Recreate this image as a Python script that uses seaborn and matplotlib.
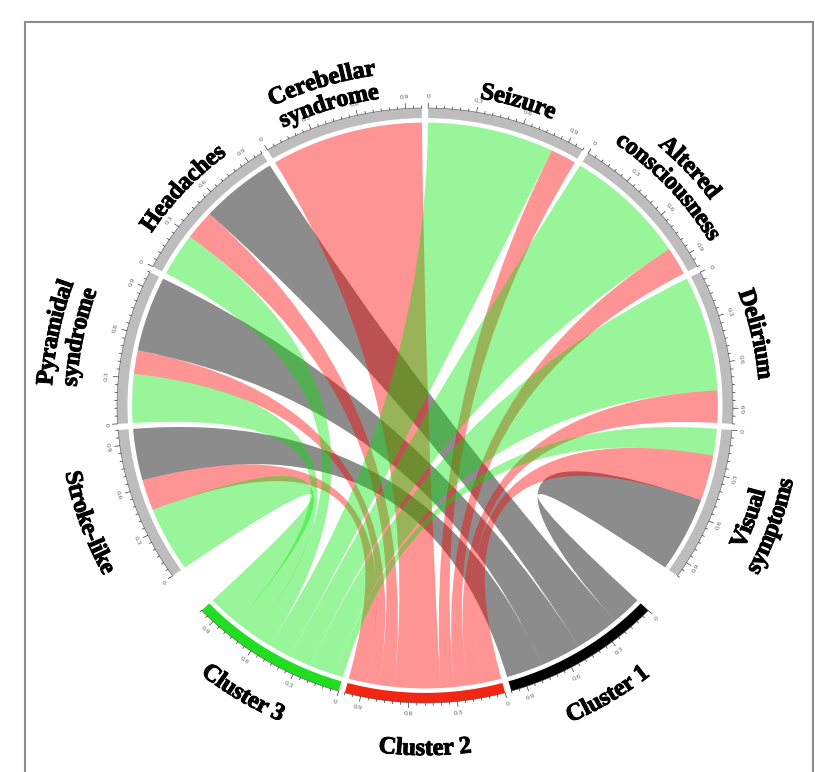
import numpy as np
import pandas as pd
import seaborn as sns
import matplotlib
matplotlib.use("Agg")
import matplotlib.pyplot as plt
import matplotlib.patheffects as pe
from matplotlib.path import Path
from matplotlib.patches import PathPatch, Polygon
from matplotlib.textpath import TextPath
from matplotlib.font_manager import FontProperties

# ---------------------------------------------------------------- data
symptoms = ["Seizure", "Altered\nconsciousness", "Delirium", "Visual\nsymptoms",
            "Stroke-like", "Pyramidal\nsyndrome", "Headaches", "Cerebellar\nsyndrome"]
clusters = ["Cluster 1", "Cluster 2", "Cluster 3"]

# share of each symptom carried by each cluster (each symptom sums to 1)
symptom_share_c1 = [0.00, 0.00, 0.00, 0.51, 0.35, 0.51, 0.51, 0.00]
symptom_share_c2 = [0.17, 0.19, 0.22, 0.31, 0.21, 0.16, 0.20, 1.00]
symptom_share_c3 = [0.83, 0.81, 0.78, 0.18, 0.44, 0.33, 0.29, 0.00]

# share of each cluster taken by each symptom (each cluster sums to 1)
cluster_share_c1 = [0.00, 0.00, 0.00, 0.20, 0.24, 0.27, 0.29, 0.00]
cluster_share_c2 = [0.09, 0.09, 0.10, 0.12, 0.12, 0.08, 0.10, 0.30]
cluster_share_c3 = [0.15, 0.15, 0.17, 0.05, 0.22, 0.14, 0.12, 0.00]

tick_major = [0, 0.3, 0.6, 0.9]

# ---------------------------------------------------------------- style
sns.set_theme(style="white")
plt.rcParams["font.family"] = ["Liberation Serif", "DejaVu Serif"]

link_colors = {"Cluster 1": (0.0, 0.0, 0.0, 0.45),
               "Cluster 2": (1.0, 0.0, 0.0, 0.42),
               "Cluster 3": (0.0, 0.90, 0.0, 0.40)}
track_colors = {"Cluster 1": "#000000", "Cluster 2": "#F22613", "Cluster 3": "#22DD22"}
symptom_track = "#BDBDBD"

rows = []
for i, s in enumerate(symptoms):
    for c, a, b in zip(clusters,
                       [symptom_share_c1, symptom_share_c2, symptom_share_c3],
                       [cluster_share_c1, cluster_share_c2, cluster_share_c3]):
        if a[i] > 0:
            rows.append((s, c, a[i], b[i]))
links = pd.DataFrame(rows, columns=["symptom", "cluster", "w_symptom", "w_cluster"])

order = ["Seizure", "Altered\nconsciousness", "Delirium", "Visual\nsymptoms",
         "Cluster 1", "Cluster 2", "Cluster 3",
         "Stroke-like", "Pyramidal\nsyndrome", "Headaches", "Cerebellar\nsyndrome"]
N = len(order)
size = {s: links.loc[links.symptom == s, "w_symptom"].sum() for s in symptoms}
size.update({c: links.loc[links.cluster == c, "w_cluster"].sum() for c in clusters})

# ---------------------------------------------------------------- geometry
W, H = 815, 772
CX, CY = 425.0, H - 405.5
RX, RY = 308.0, 297.5
RM = 0.5 * (RX + RY)
R_LINK, R_TIN, R_TOUT = 0.951, 0.966, 1.0
g_small, g_big = 1.2, 8.6
big_after = {"Visual\nsymptoms", "Cluster 3"}
deg_per = (360 - 9 * g_small - 2 * g_big) / sum(size.values())


def xy(theta, r):
    t = np.deg2rad(theta)
    return CX + RX * r * np.cos(t), CY + RY * r * np.sin(t)


start, end = {}, {}
th = 90 - g_small / 2
for name in order:
    start[name] = th
    th -= size[name] * deg_per
    end[name] = th
    th -= g_big if name in big_after else g_small

# link ends, ordered inside each sector so ribbons do not twist
ends = {}
for k, name in enumerate(order):
    is_cluster = name in clusters
    col_self = "cluster" if is_cluster else "symptom"
    col_other = "symptom" if is_cluster else "cluster"
    wcol = "w_cluster" if is_cluster else "w_symptom"
    sub = links[links[col_self] == name].copy()
    sub["dist"] = [(k - order.index(o)) % N for o in sub[col_other]]
    pos = 0.0
    for idx, row in sub.sort_values("dist").iterrows():
        t1 = start[name] - pos * deg_per
        pos += row[wcol]
        t2 = start[name] - pos * deg_per
        ends[(idx, is_cluster)] = (t1, t2)

fig = plt.figure(figsize=(W / 100, H / 100), dpi=100)
ax = fig.add_axes([0, 0, 1, 1])
ax.set_xlim(0, W)
ax.set_ylim(0, H)
ax.axis("off")

# frame
ax.plot([25, 25, 813, 813], [0, H - 22, H - 22, 0], color="#8C8C8C", lw=1.5,
        solid_joinstyle="miter")


def ribbon(a1, a2, b1, b2):
    verts, codes = [], []
    for k, t in enumerate(np.linspace(a1, a2, 50)):
        verts.append(xy(t, R_LINK))
        codes.append(Path.MOVETO if k == 0 else Path.LINETO)
    verts += [(CX, CY), xy(b1, R_LINK)]
    codes += [Path.CURVE3, Path.CURVE3]
    for t in np.linspace(b1, b2, 50)[1:]:
        verts.append(xy(t, R_LINK))
        codes.append(Path.LINETO)
    verts += [(CX, CY), xy(a1, R_LINK), (0, 0)]
    codes += [Path.CURVE3, Path.CURVE3, Path.CLOSEPOLY]
    return Path(verts, codes)


for c in clusters:
    for idx, row in links[links.cluster == c].iterrows():
        a1, a2 = ends[(idx, False)]
        b1, b2 = ends[(idx, True)]
        ax.add_patch(PathPatch(ribbon(a1, a2, b1, b2), facecolor=link_colors[c],
                               edgecolor="none", zorder=2))

# tracks, ticks and tick labels
tick_fp = FontProperties(family="Liberation Serif", size=5.4)
for name in order:
    s0, s1 = start[name], end[name]
    ts = np.linspace(s0, s1, 80)
    outer = [xy(t, R_TOUT) for t in ts]
    inner = [xy(t, R_TIN) for t in ts[::-1]]
    col = track_colors.get(name, symptom_track)
    ax.add_patch(Polygon(outer + inner, closed=True, facecolor=col, edgecolor="none", zorder=3))
    ax.plot(*zip(*outer), color="#555555", lw=0.4, zorder=4)
    nsteps = int(np.floor(size[name] / 0.05 + 1e-6))
    for k in range(nsteps + 1):
        v = k * 0.05
        t = s0 - v * deg_per
        major = any(np.isclose(v, m) for m in tick_major)
        L = 0.017 if major else 0.008
        p0, p1 = xy(t, R_TOUT), xy(t, R_TOUT + L)
        ax.plot([p0[0], p1[0]], [p0[1], p1[1]], color="#333333", lw=0.5, zorder=4)
        if major:
            px, py = xy(t, 1.038)
            flip = np.sin(np.deg2rad(t)) < 0
            rot = t + 90 if flip else t - 90
            lab = "0" if v == 0 else f"{v:.1f}"
            ax.text(px, py, lab, fontproperties=tick_fp, color="#555555",
                    rotation=rot, rotation_mode="anchor", ha="center", va="center", zorder=5)

# sector names, bent along the circle
FS_PT = 17.6
FS_PX = FS_PT * 100 / 72
label_fp = FontProperties(family="Liberation Serif", weight="bold", size=FS_PT)
ref_l = TextPath((0, 0), "l", size=FS_PX, prop=label_fp).get_extents().x1


def advance(s):
    if not s:
        return 0.0
    return TextPath((0, 0), s + "l", size=FS_PX, prop=label_fp).get_extents().x1 - ref_l


label_r = {"Seizure": 1.072, "Altered\nconsciousness": 1.10, "Delirium": 1.11,
           "Visual\nsymptoms": 1.117, "Cluster 1": 1.141, "Cluster 2": 1.151,
           "Cluster 3": 1.136, "Stroke-like": 1.165, "Pyramidal\nsyndrome": 1.157,
           "Headaches": 1.085, "Cerebellar\nsyndrome": 1.066}
label_shift = {"Cerebellar\nsyndrome": 1.5, "Delirium": 1.0, "Seizure": -0.8}
line_step = 0.08
mid_lift = 0.30 * FS_PX / RM
heavy = [pe.withStroke(linewidth=0.7, foreground="black")]

for name in order:
    mid = 0.5 * (start[name] + end[name]) + label_shift.get(name, 0.0)
    flip = np.sin(np.deg2rad(mid)) < 0
    lines = name.split("\n")
    n = len(lines)
    for li, line in enumerate(lines):
        if flip:
            r_line = label_r[name] + li * line_step
            r_base = r_line + mid_lift
        else:
            r_line = label_r[name] + (n - 1 - li) * line_step
            r_base = r_line - mid_lift
        total = advance(line)
        for ci, ch in enumerate(line):
            if ch == " ":
                continue
            c = 0.5 * (advance(line[:ci]) + advance(line[:ci + 1])) - total / 2
            dth = np.rad2deg(0.97 * c / (r_base * RM))
            t = mid + dth if flip else mid - dth
            rot = t + 90 if flip else t - 90
            px, py = xy(t, r_base)
            ax.text(px, py, ch, fontproperties=label_fp, color="black", rotation=rot,
                    rotation_mode="anchor", ha="center", va="baseline", zorder=6,
                    path_effects=heavy)

fig.savefig("out.png", dpi=100, facecolor="white")
